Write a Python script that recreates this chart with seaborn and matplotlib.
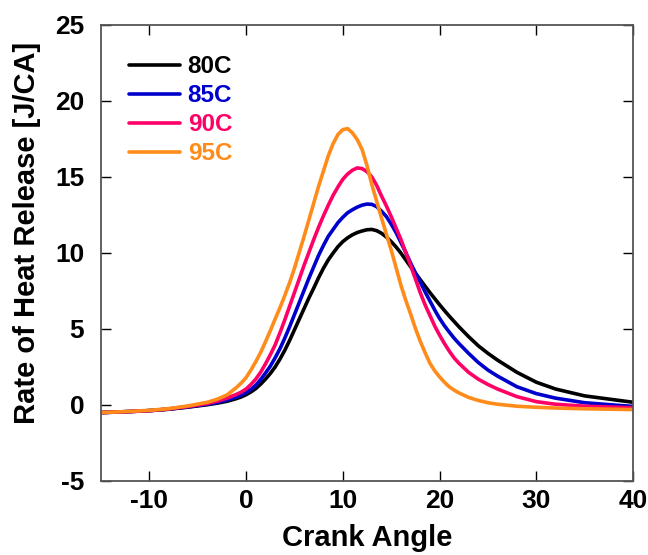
import matplotlib
matplotlib.use("Agg")
import matplotlib.pyplot as plt
import pandas as pd
import seaborn as sns

# Crank angle samples (deg) and rate of heat release (J/CA) per intake temperature
crank_angle = [-15, -12, -10, -8, -6, -4, -3, -2, -1,
               -0.5, 0, 0.5, 1, 1.5, 2, 2.5, 3, 3.5, 4, 4.5, 5, 5.5, 6, 6.5, 7,
               7.5, 8, 8.5, 9, 9.5, 10, 10.5, 11, 11.5, 12, 12.5, 13, 13.5, 14,
               14.5, 15, 15.5, 16, 16.5, 17, 17.5, 18, 18.5, 19, 19.5, 20, 20.5,
               21, 21.5, 22,
               23, 24, 25, 26, 28, 30, 32, 35, 40]

hrr_80c = [-0.5, -0.43, -0.37, -0.28, -0.14, 0.02, 0.12, 0.24, 0.42,
           0.53, 0.68, 0.86, 1.08, 1.37, 1.7, 2.07, 2.5, 3.02, 3.6, 4.25, 4.95,
           5.65, 6.35, 7.05, 7.7, 8.38, 9.0, 9.55, 10.0, 10.42, 10.75, 11.0,
           11.2, 11.35, 11.45, 11.53, 11.55, 11.47, 11.3, 11.05, 10.75, 10.4,
           10.0, 9.55, 9.1, 8.67, 8.25, 7.82, 7.4, 7.0, 6.6, 6.22, 5.85, 5.5,
           5.15,
           4.5, 3.9, 3.4, 2.95, 2.15, 1.5, 1.05, 0.6, 0.18]

hrr_85c = [-0.5, -0.43, -0.37, -0.27, -0.12, 0.05, 0.16, 0.32, 0.52,
           0.65, 0.82, 1.03, 1.3, 1.67, 2.1, 2.55, 3.1, 3.7, 4.4, 5.15, 5.95,
           6.75, 7.55, 8.35, 9.1, 9.85, 10.5, 11.1, 11.55, 12.0, 12.35, 12.65,
           12.85, 13.02, 13.15, 13.22, 13.2, 13.05, 12.75, 12.4, 11.9, 11.35,
           10.7, 10.05, 9.35, 8.7, 8.1, 7.45, 6.85, 6.25, 5.7, 5.22, 4.8, 4.4,
           4.05,
           3.4, 2.8, 2.3, 1.9, 1.2, 0.75, 0.45, 0.15, -0.1]

hrr_90c = [-0.5, -0.43, -0.37, -0.26, -0.1, 0.1, 0.25, 0.45, 0.7,
           0.85, 1.05, 1.35, 1.7, 2.15, 2.7, 3.3, 3.95, 4.75, 5.6, 6.5, 7.4,
           8.3, 9.2, 10.05, 10.9, 11.7, 12.45, 13.15, 13.8, 14.35, 14.85, 15.2,
           15.45, 15.6, 15.55, 15.35, 15.0, 14.45, 13.75, 13.1, 12.4, 11.65,
           10.9, 10.05, 9.2, 8.3, 7.4, 6.6, 5.9, 5.2, 4.6, 4.05, 3.55, 3.1,
           2.75,
           2.15, 1.7, 1.35, 1.05, 0.55, 0.22, 0.05, -0.08, -0.18]

hrr_95c = [-0.5, -0.42, -0.35, -0.24, -0.06, 0.18, 0.38, 0.65, 1.15,
           1.45, 1.8, 2.3, 2.85, 3.45, 4.15, 4.88, 5.65, 6.4, 7.2, 8.05, 9.0,
           10.05, 11.1, 12.2, 13.3, 14.4, 15.4, 16.4, 17.2, 17.8, 18.12, 18.18,
           17.9, 17.45, 16.8, 15.75, 14.5, 13.4, 12.3, 11.25, 10.2, 9.05, 7.9,
           6.9, 6.0, 5.05, 4.2, 3.45, 2.75, 2.25, 1.85, 1.5, 1.2, 0.98, 0.8,
           0.5, 0.3, 0.15, 0.05, -0.08, -0.15, -0.2, -0.25, -0.3]

temperatures = ["80C", "85C", "90C", "95C"]
line_colors = ["#000000", "#0000CC", "#FF0066", "#FF8C1A"]

x_ticks = [-10, 0, 10, 20, 30, 40]
y_ticks = [-5, 0, 5, 10, 15, 20, 25]

series = [hrr_80c, hrr_85c, hrr_90c, hrr_95c]
df = pd.concat(
    [pd.DataFrame({"angle": crank_angle, "hrr": vals, "temp": t})
     for t, vals in zip(temperatures, series)],
    ignore_index=True,
)

sns.set_style("ticks")
plt.rcParams["font.family"] = ["Liberation Sans", "DejaVu Sans"]
plt.rcParams["font.weight"] = "bold"
plt.rcParams["axes.unicode_minus"] = False
plt.rcParams["text.color"] = "black"
plt.rcParams["axes.labelcolor"] = "black"
plt.rcParams["xtick.color"] = "black"
plt.rcParams["ytick.color"] = "black"

fig = plt.figure(figsize=(6.48, 5.55), dpi=100)
ax = fig.add_axes([101 / 648, 1 - 481 / 555, 532 / 648, 456 / 555])

sns.lineplot(data=df, x="angle", y="hrr", hue="temp", hue_order=temperatures,
             palette=dict(zip(temperatures, line_colors)), linewidth=2.6,
             estimator=None, ax=ax)

ax.set_xlim(-15, 40)
ax.set_ylim(-5, 25)
ax.set_xticks(x_ticks)
ax.set_yticks(y_ticks)
ax.tick_params(axis="both", direction="in", length=7, width=1, color="black",
               top=True, right=True, labelsize=19, labelcolor="black")
ax.tick_params(axis="x", pad=6)
ax.tick_params(axis="y", pad=12)
for spine in ax.spines.values():
    spine.set_color("#555555")
    spine.set_linewidth(1.3)

ax.set_xlabel("Crank Angle", fontsize=21, fontweight="bold", labelpad=8)
ax.set_ylabel("Rate of Heat Release [J/CA]", fontsize=21, fontweight="bold")
ax.yaxis.set_label_coords(-0.112, 0.545)

leg = ax.legend(loc="upper left", bbox_to_anchor=(0.035, 0.955), frameon=False,
                prop={"size": 17.5, "weight": "bold"}, handlelength=2.1,
                handletextpad=0.3, labelspacing=0.25, borderaxespad=0,
                labelcolor="linecolor")
for h in leg.get_lines():
    h.set_linewidth(2.6)

fig.savefig("out.png", dpi=100)
